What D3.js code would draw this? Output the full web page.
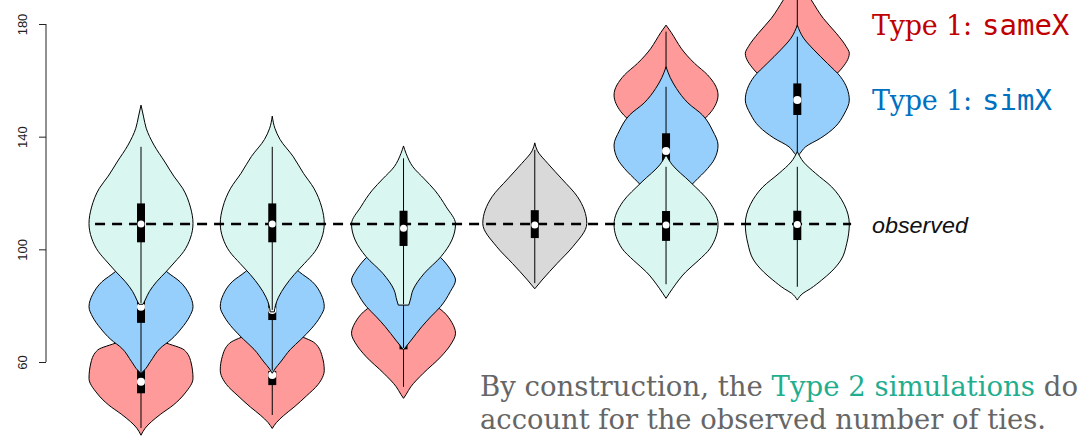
<!DOCTYPE html>
<html>
<head>
<meta charset="utf-8">
<script src="https://cdn.jsdelivr.net/npm/d3@7"></script>
<style>
  body { margin: 0; background: #fff; }
  svg { display: block; }
</style>
</head>
<body>
<svg id="chart"></svg>
<script>
// Data
const columns = [1, 2, 3, 4, 5, 6];
const yTicks = [60, 100, 140, 180];
const observedValue = 109;

// violin profiles: [value, relative half-width]
const sameXShapes = [
  [[74,0],[70,0.15],[67,0.45],[64.3,0.83],[60,0.96],[54.2,1],[49,0.85],[44.7,0.62],[41.5,0.38],[38.8,0.2],[36.5,0.08],[34,0]],
  [[78,0],[74,0.15],[70,0.45],[66.7,0.82],[62,0.96],[57.1,1],[52,0.88],[48,0.66],[44,0.42],[41,0.22],[38.5,0.08],[36.4,0]],
  [[92,0],[88,0.15],[84,0.4],[80,0.62],[77.8,0.77],[74,0.93],[70.2,1],[66,0.9],[61.9,0.72],[56,0.38],[51.2,0.14],[48.5,0.05],[47.1,0]],
  null,
  [[179.6,0],[177,0.1],[174,0.2],[171.4,0.29],[166,0.55],[161.9,0.8],[154.8,1],[148.9,0.87],[144,0.6],[140,0.35],[136,0.12],[133,0]],
  [[198,0],[194,0.08],[188.5,0.27],[182,0.5],[176.7,0.75],[172,0.94],[169.6,1],[163.7,0.83],[159,0.55],[155,0.3],[151,0.1],[148,0]]
];
const simXShapes = [
  [[104,0],[100,0.1],[96,0.3],[92,0.5],[88.5,0.75],[84,0.93],[79.6,1],[76,0.93],[72,0.78],[68,0.58],[64.9,0.37],[60.1,0.18],[57,0.06],[56,0]],
  [[104,0],[100,0.1],[96,0.3],[92,0.52],[88.5,0.77],[84,0.94],[79.6,1],[76,0.92],[72,0.76],[68,0.55],[64.5,0.35],[60,0.16],[57.5,0.05],[56,0]],
  [[113,0],[109,0.1],[104,0.3],[100,0.55],[96.2,0.76],[92,0.93],[89.1,1],[85,0.9],[79.6,0.71],[76,0.52],[72.5,0.35],[67.8,0.15],[65.5,0.05],[64.3,0]],
  null,
  [[164.8,0],[161,0.08],[157.1,0.2],[152,0.42],[147.7,0.7],[142,0.9],[137,1],[132,0.93],[128.7,0.8],[124,0.55],[119,0.3],[114,0.1],[111,0]],
  [[179.6,0],[175,0.12],[170.8,0.32],[166,0.58],[161.3,0.83],[157,0.96],[153,1],[148,0.9],[143.5,0.73],[139.5,0.45],[136.4,0.16],[134,0.05],[132.9,0]]
];
const type2Shapes = [
  [[151.2,0],[147,0.05],[143,0.1],[137,0.25],[131,0.46],[126,0.63],[121.7,0.8],[115,0.95],[109.2,1],[104,0.95],[99.2,0.82],[95.5,0.65],[92,0.48],[88.5,0.3],[85,0.16],[82,0.08],[80.5,0.04]],
  [[147.3,0],[143,0.05],[139,0.15],[133,0.4],[127,0.6],[121.7,0.8],[115,0.95],[109.2,1],[104,0.95],[99.2,0.82],[95,0.62],[91,0.42],[87,0.25],[83,0.12],[80,0.06],[77.8,0.04]],
  [[136.7,0],[134,0.05],[129.3,0.18],[125,0.4],[121,0.6],[115.1,0.82],[109,1],[103.3,0.93],[97.4,0.72],[91.5,0.4],[85.5,0.18],[82,0.13],[80.2,0.1]],
  [[137.8,0],[135,0.05],[130.5,0.25],[125,0.52],[118.7,0.82],[109.2,1],[100.9,0.73],[95,0.43],[89.1,0.14],[86,0]],
  [[133.5,0],[130,0.12],[124,0.46],[116.9,0.83],[108.9,1],[100.4,0.85],[96,0.62],[92,0.38],[86.2,0.13],[82.6,0]],
  [[134.7,0],[131,0.12],[127,0.35],[122.2,0.66],[116,0.9],[109,1],[102,0.95],[96.2,0.84],[92,0.65],[89.1,0.47],[86,0.25],[84.4,0.11],[82,0]]
];

// boxes: [whisker low, q1, median, q3, whisker high]
const sameXBoxes = [
  [36.6, 48.9, 53, 57.8, 70],
  [41.2, 51.8, 55.4, 56.8, 72],
  [51.2, 64.5, 70, 75, 88],
  null,
  [140, 148, 153, 159, 177.3],
  [150, 162, 168, 174, 200]
];
const simXBoxes = [
  [56.5, 73.9, 79.6, 84, 100],
  [57, 74.9, 78.5, 83, 100],
  [65, 83, 89, 95, 110],
  null,
  [112, 130, 134.9, 141.2, 157.7],
  [134, 147.7, 153, 158.9, 175.5]
];
const type2Boxes = [
  [81, 102.5, 109, 116.3, 136.4],
  [78.5, 102.5, 109, 116.3, 136.4],
  [80.5, 101.2, 107.5, 113.7, 132.3],
  [88, 104, 108.6, 113.9, 135.3],
  [87.6, 103, 108.6, 113.6, 129.3],
  [86.7, 103.3, 108.8, 113.7, 129.3]
];

// Chart Dimensions
const width = 1083;
const height = 436;

const svg = d3.select("#chart").attr("width", width).attr("height", height);

// Scales
const xScale = d3.scaleLinear().domain([1, 6]).range([141, 797.3]);
const yScale = d3.scaleLinear().domain([60, 180]).range([362, 24]);
const wScale = d3.scaleLinear().domain([0, 1]).range([0, 52]);

// Y axis (R style: line only between first and last tick)
const yAxis = d3.axisLeft(yScale).tickValues(yTicks).tickSize(7).tickSizeOuter(0);
const axisG = svg
  .append("g")
  .attr("transform", "translate(46,0)")
  .call(yAxis)
  .attr("font-size", 13)
  .attr("font-family", "'Liberation Sans', Arial, sans-serif");
axisG.select(".domain").remove();
axisG.selectAll(".tick line").attr("stroke", "#222");
axisG
  .selectAll(".tick text")
  .attr("x", null)
  .attr("dy", null)
  .attr("transform", "translate(-19,0) rotate(-90)")
  .attr("text-anchor", "middle")
  .attr("fill", "#222");
axisG
  .append("line")
  .attr("y1", yScale(d3.min(yTicks)))
  .attr("y2", yScale(d3.max(yTicks)))
  .attr("stroke", "#222");

// Violin helpers
function violinPath(shape, col) {
  const cx = xScale(col);
  return d3
    .area()
    .curve(d3.curveMonotoneY)
    .y((d) => yScale(d[0]))
    .x0((d) => cx - wScale(d[1]))
    .x1((d) => cx + wScale(d[1]))(shape);
}

function drawViolins(shapes, fill) {
  const g = svg.append("g");
  shapes.forEach((shape, i) => {
    if (!shape) return;
    g.append("path")
      .attr("d", violinPath(shape, columns[i]))
      .attr("fill", typeof fill === "function" ? fill(i) : fill)
      .attr("stroke", "#000")
      .attr("stroke-width", 1);
  });
}

function drawBoxes(boxes) {
  const g = svg.append("g");
  boxes.forEach((b, i) => {
    if (!b) return;
    const cx = xScale(columns[i]);
    g.append("line")
      .attr("x1", cx).attr("x2", cx)
      .attr("y1", yScale(b[0])).attr("y2", yScale(b[4]))
      .attr("stroke", "#000").attr("stroke-width", 1);
    g.append("rect")
      .attr("x", cx - 4).attr("width", 8)
      .attr("y", yScale(b[3])).attr("height", yScale(b[1]) - yScale(b[3]))
      .attr("fill", "#000");
  });
}

function drawMedians(boxes, r) {
  const g = svg.append("g");
  boxes.forEach((b, i) => {
    if (!b) return;
    g.append("circle")
      .attr("cx", xScale(columns[i]))
      .attr("cy", yScale(b[2]))
      .attr("r", r)
      .attr("fill", "#fff");
  });
}

// Layers: sameX, simX, then Type 2 on top
drawViolins(sameXShapes, "#ff9a9a");
drawBoxes(sameXBoxes);
drawMedians(sameXBoxes, 4);

drawViolins(simXShapes, "#96cffb");
drawBoxes(simXBoxes);
drawMedians(simXBoxes, 4);

drawViolins(type2Shapes, (i) => (i === 3 ? "#d9d9d9" : "#d9f6f1"));
drawBoxes(type2Boxes);

// observed line
svg
  .append("line")
  .attr("x1", xScale(0.65))
  .attr("x2", xScale(6.41))
  .attr("y1", yScale(observedValue))
  .attr("y2", yScale(observedValue))
  .attr("stroke", "#000")
  .attr("stroke-width", 2.5)
  .attr("stroke-dasharray", "10,7");

drawMedians(type2Boxes, 3.5);

// Labels
const serif = "'DejaVu Serif', 'Liberation Serif', serif";
const mono = "'DejaVu Sans Mono', 'Liberation Mono', monospace";

const sameLabel = svg.append("text").attr("x", 872).attr("y", 35).attr("fill", "#c00000");
sameLabel.append("tspan").attr("textLength", 100).style("font-family", serif).style("font-size", "27px").text("Type 1:");
sameLabel.append("tspan").attr("x", 982).style("font-family", mono).style("font-size", "29px").text("sameX");

const simLabel = svg.append("text").attr("x", 872).attr("y", 110).attr("fill", "#0070c0");
simLabel.append("tspan").attr("textLength", 100).style("font-family", serif).style("font-size", "27px").text("Type 1:");
simLabel.append("tspan").attr("x", 982).style("font-family", mono).style("font-size", "29px").text("simX");

svg
  .append("text")
  .attr("x", 872)
  .attr("y", 233)
  .attr("fill", "#111")
  .attr("textLength", 96)
  .attr("lengthAdjust", "spacingAndGlyphs")
  .style("font-family", "'Liberation Sans', Arial, sans-serif")
  .style("font-style", "italic")
  .style("font-size", "22px")
  .text("observed");

const note1 = svg
  .append("text")
  .attr("x", 480)
  .attr("y", 396)
  .attr("fill", "#666")
  .attr("textLength", 598)
  .attr("lengthAdjust", "spacingAndGlyphs")
  .style("font-family", serif)
  .style("font-size", "27px");
note1.append("tspan").text("By construction, the ");
note1.append("tspan").attr("fill", "#1fae8f").text("Type 2 simulations");
note1.append("tspan").text(" do");

svg
  .append("text")
  .attr("x", 480)
  .attr("y", 429)
  .attr("fill", "#666")
  .attr("textLength", 566)
  .attr("lengthAdjust", "spacingAndGlyphs")
  .style("font-family", serif)
  .style("font-size", "27px")
  .text("account for the observed number of ties.");
</script>
</body>
</html>
